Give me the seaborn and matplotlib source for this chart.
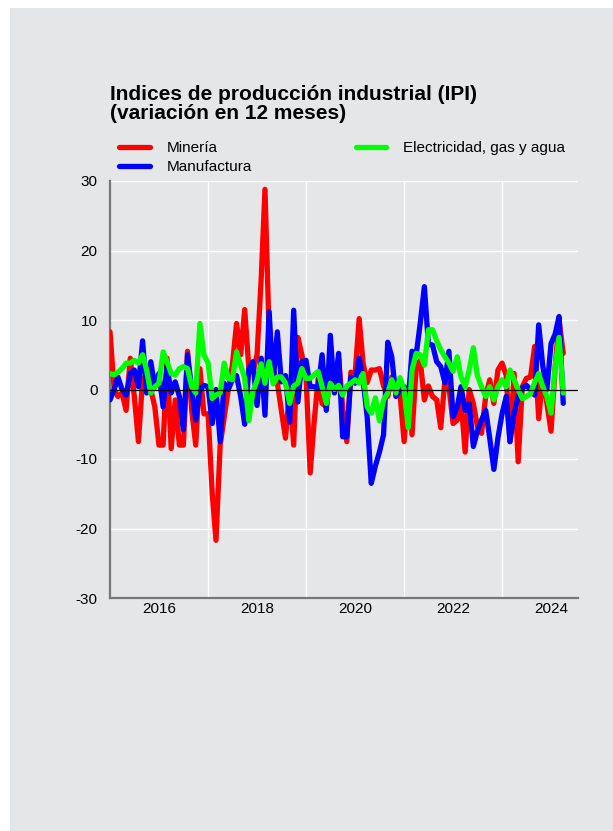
import numpy as np
import pandas as pd
import matplotlib
matplotlib.use("Agg")
import matplotlib.pyplot as plt
import matplotlib.dates as mdates
from matplotlib.ticker import FuncFormatter, MultipleLocator
from matplotlib.patches import Rectangle
import seaborn as sns

# ---------------- data (monthly, 2015-01 .. 2024-04) ----------------
start_month = "2015-01-01"
mineria = [8.3, 0, -1, -0.5, -3, 4.5, -1, -7.5, 1.5, 2, 0, -2.5,
           -8, -8, 4.5, -8.5, -1.5, -8, -8, 5.5, -3, -8, 3, -3.5,
           -3.5, -15, -21.7, -8, -4, 0, 3.5, 9.5, 5, 11.5, 3, 2.5,
           5, 16, 28.8, 8, 3, 1, -3, -7, 0, -8, 7.5, 5,
           2, -12, -5, 1.5, -2, -2.5, 1.5, 1, 4.5, -2.5, -7.5, 2.5,
           2, 10.2, 3.8, 1, 2.8, 2.8, 3, 0.5, -1, 1.8, 0, -0.5,
           -7.5, 0, -6.5, 3.3, 4.2, -1.5, 0.5, -1, -1.5, -5.5, 1.4, 0.4,
           -4.9, -4.4, -1.5, -9, 0, -2, -5.3, -6.3, -1, 1.4, -2, 2.8,
           3.8, 2, -7.5, 2.3, -10.4, 0.4, 1.6, 1.8, 6.2, -4.2, 2, -2,
           -6, 3.3, 10, 5.2]
manufactura = [-1.5, 0, 1.8, 0, -0.8, 2.3, 2.8, 0.4, 7, -0.5, 4, 0.4,
               2.3, -2.5, 3.3, -0.5, 1.1, -1, -5.8, 5, 0, -4.4, 0, 0.6,
               0.4, -4.9, 0, -7.5, 0.9, 0, 1.4, 2, -1, -5, 3, 4,
               -2.3, 4.5, -3.7, 11.2, 1.1, 8.3, 1.1, 2, -4.7, 11.4, -1.8, 4,
               4.2, 0.4, 0.4, 0.2, 5, -3, 7.8, -0.5, 5.2, -6.8, -6.8, 1.8,
               0.9, 4.5, 1.4, -4, -13.5, -11, -9, -6.5, 6.8, 4.7, -1, 0,
               0.4, -1.5, 5.5, 5, 9.5, 14.8, 6.5, 6.4, 4, 3.3, 1, 5.5,
               -3.9, -2.5, 0.4, -3, -2, -8.2, -6, -4.4, -3, -7, -11.5, -7,
               -3.5, -1, -7.5, -3.4, -1, 0.2, 0.6, 0, -0.8, 9.3, 3.3, 0,
               6.6, 8, 10.5, -2]
electricidad = [2.3, 2.1, 2.5, 3, 3.8, 3.8, 4.2, 3.8, 5, 2.8, -0.5, 0.4,
                0.9, 5.4, 4, 2.3, 2.1, 3, 3.3, 3, 0.4, -0.5, 9.5, 5,
                3.8, -1.3, -0.8, -0.5, 3.8, 1.6, 1.4, 5.4, 3.5, 1.6, -4.5, -0.3,
                1.3, 3.7, 0.9, 4, 0.8, 1.8, 1.8, 0.9, -2, 0.5, 0.9, 3,
                1.6, 1.6, 2.1, 2.6, 0.4, -2, 0.9, 0, 0.6, -0.8, 0.5, 0.9,
                1.4, 0.9, 2.3, -2.5, -3.4, -1.2, -4.5, -1.5, -0.5, 1.4, -0.5, 1.7,
                0, -5.5, 2.8, 5.2, 5, 3.5, 8.6, 8.6, 7, 5.7, 4.7, 3.8,
                2.6, 4.7, 1.8, 0.4, 2.8, 6, 2, 0.4, -1, 0.4, -1.5, 0.4,
                1.4, 0.4, 2.8, 1.4, 0, -1.3, -1, -0.6, 1, 2.3, 0.4, -1,
                -3.4, 3.3, 7.5, -0.5]
series_names = ["Minería", "Manufactura", "Electricidad, gas y agua"]
series_colors = ["#ff0000", "#0000ff", "#00ff00"]
title_text = "Indices de producción industrial (IPI)\n(variación en 12 meses)"

dates = pd.date_range(start_month, periods=len(mineria), freq="MS")
df = pd.concat([
    pd.DataFrame({"fecha": dates, "valor": vals, "serie": name})
    for name, vals in zip(series_names, [mineria, manufactura, electricidad])
], ignore_index=True)

# ---------------- style ----------------
BG = "#e5e6e8"
sns.set_style("darkgrid", {"axes.facecolor": BG, "figure.facecolor": "white",
                           "grid.color": "white", "text.color": "black",
                           "xtick.color": "black", "ytick.color": "black"})
plt.rcParams["font.family"] = ["Liberation Sans", "DejaVu Sans"]
plt.rcParams["axes.unicode_minus"] = False

fig = plt.figure(figsize=(6.13, 8.31), dpi=100)
fig.patch.set_facecolor("white")
fig.patches.append(Rectangle((10 / 613, 0), 1 - 10 / 613, 1 - 8 / 831,
                             transform=fig.transFigure, facecolor=BG,
                             edgecolor="none", zorder=-10))
ax = fig.add_axes([110 / 613, 1 - 598 / 831, (578 - 110) / 613, (598 - 181) / 831])
ax.set_facecolor(BG)

sns.lineplot(data=df, x="fecha", y="valor", hue="serie", hue_order=series_names,
             palette=series_colors, linewidth=3.8, ax=ax, legend=False, zorder=3)

ax.axhline(0, color="black", lw=0.9, zorder=5)

ax.set_ylim(-30, 30)
ax.set_xlim(pd.Timestamp("2015-01-01"), pd.Timestamp("2024-07-20"))
ax.yaxis.set_major_locator(MultipleLocator(10))
ax.grid(axis="y", color="white", lw=1.0, zorder=0)
ax.grid(axis="x", visible=False)
for yr in range(2017, 2024, 2):
    ax.axvline(pd.Timestamp(f"{yr}-01-01"), color="white", lw=1.0, zorder=0.5)

ax.xaxis.set_major_locator(mdates.YearLocator(1))
ax.xaxis.set_minor_locator(mdates.MonthLocator(bymonth=[4, 7, 10]))
ax.xaxis.set_major_formatter(FuncFormatter(
    lambda v, p: str(mdates.num2date(v).year) if mdates.num2date(v).year % 2 == 0 else ""))
ax.tick_params(axis="x", which="major", direction="in", length=7, width=1,
               color="#555555", labelsize=11, labelcolor="black", pad=3)
ax.tick_params(axis="x", which="minor", direction="in", length=3.5, width=1,
               color="#555555")
ax.tick_params(axis="y", which="major", direction="in", length=3.5, width=1,
               color="#555555", labelsize=11, labelcolor="black", pad=9)
ax.set_xlabel("")
ax.set_ylabel("")

for s in ["top", "right"]:
    ax.spines[s].set_visible(False)
for s in ["left", "bottom"]:
    ax.spines[s].set_visible(True)
    ax.spines[s].set_color("#777777")
    ax.spines[s].set_linewidth(1.6)

fig.text(110 / 613, 1 - 85 / 831, title_text, ha="left", va="top",
         fontsize=15, fontweight="bold", linespacing=1.02, color="black")

handles = [plt.Line2D([], [], color=c, lw=3.8) for c in series_colors]
leg = fig.legend(handles, series_names, loc="upper left",
                 bbox_to_anchor=(119 / 613, 1 - 141 / 831), ncol=2,
                 frameon=False, fontsize=11, handlelength=2.0,
                 handletextpad=1.1, columnspacing=6.8, labelspacing=0.35,
                 borderpad=0, borderaxespad=0)
for t in leg.get_texts():
    t.set_color("black")

fig.savefig("out.png", dpi=100, facecolor="white")
